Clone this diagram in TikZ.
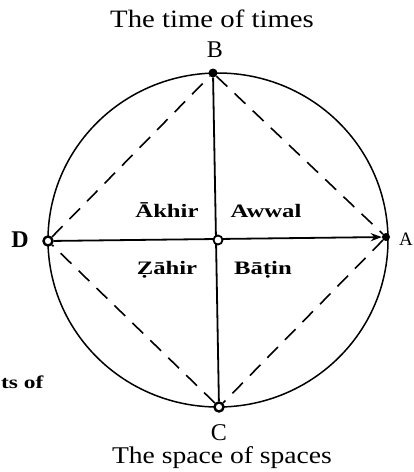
\documentclass[tikz,border=0pt]{standalone}
\usepackage{fontspec}
\setmainfont{Liberation Serif}
\newfontfamily\capfont[FakeStretch=1.15]{Liberation Serif}
\newfontfamily\innfont[FakeStretch=1.3]{Liberation Serif}
\usetikzlibrary{arrows.meta}
\tikzset{
  dotfill/.style={circle, fill=black, inner sep=0pt, minimum size=9pt},
  dotring/.style={circle, draw=black, fill=white, line width=2.4pt,
                  inner sep=0pt, minimum size=9pt},
  dotopen/.style={circle, draw=black, fill=white, line width=1.8pt,
                  inner sep=0pt, minimum size=9pt},
  axisline/.style={line width=1.8pt},
  rhomb/.style={line width=1.6pt, dash pattern=on 15pt off 10pt},
  bigcap/.style={font=\capfont\fontsize{25}{30}\selectfont, anchor=base, inner sep=0pt},
  ptlab/.style={font=\fontsize{24}{28}\selectfont, anchor=base, inner sep=0pt},
  inlab/.style={font=\innfont\bfseries\fontsize{19}{23}\selectfont, anchor=base, inner sep=0pt},
}
\begin{document}
\begin{tikzpicture}[x=1pt, y=-1pt]
  \useasboundingbox (0,0) rectangle (414,472);
  % outer circle
  \draw[line width=1.5pt] (218,240) ellipse [x radius=170, y radius=167];
  % points
  \node[dotfill] (B) at (213,73) {};
  \node[dotring] (C) at (219,407) {};
  \node[dotring] (D) at (48,241) {};
  \node[dotfill, minimum size=8pt] (A) at (386,237) {};
  % dashed rhombus
  \draw[rhomb] (B) -- (A);
  \draw[rhomb] (A) -- (C);
  \draw[rhomb] (C) -- (D);
  \draw[rhomb] (D) -- (B);
  % axes
  \draw[axisline] (B) -- (C);
  \draw[axisline, -{Stealth[length=11pt, width=8pt]}] (D) -- (A);
  \node[dotopen] (O) at (218,240) {};
  % captions
  \node[bigcap] (time) at (212,27) {The time of times};
  \node[bigcap, font=\capfont\fontsize{24}{28}\selectfont] (space) at (222,463) {The space of spaces};
  \node[ptlab] (labB) at (215,57) {B};
  \node[ptlab] (labC) at (219,440) {C};
  \node[ptlab, font=\bfseries\fontsize{24}{28}\selectfont] (labD) at (20,247) {D};
  \node[ptlab, font=\fontsize{19}{23}\selectfont, anchor=base west] (labA) at (399,245) {A};
  % quadrants
  \node[inlab] (akhir) at (167,217) {Ākhir};
  \node[inlab] (awwal) at (266,217) {Awwal};
  \node[inlab] (zahir) at (167,274) {Ẓāhir};
  \node[inlab] (batin) at (263,274) {Bāṭin};
  % cut-off caption
  \node[inlab, font=\innfont\bfseries\fontsize{18}{22}\selectfont, anchor=base west] (tsof) at (1,388) {ts of};
\end{tikzpicture}
\end{document}
